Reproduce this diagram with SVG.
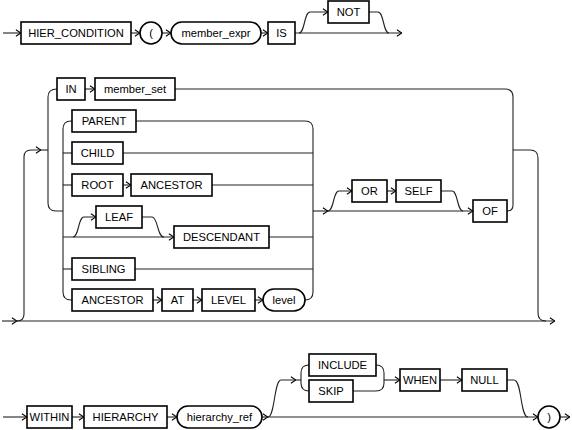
<svg xmlns="http://www.w3.org/2000/svg" width="572" height="430" viewBox="0 0 572 430">
<defs>
<marker id="arr" viewBox="0 0 6 8" refX="5.6" refY="4" markerWidth="6" markerHeight="8" markerUnits="userSpaceOnUse" orient="auto">
<path d="M0.5 0.8 L5.5 4 L0.5 7.2" fill="none" stroke="#000" stroke-width="1.1"/>
</marker>
</defs>
<style>
.b{fill:#fff;stroke:#000;stroke-width:1.6}
.t{font-family:"Liberation Sans",Arial,sans-serif;font-size:11.2px;fill:#000;text-anchor:middle}
.c{fill:none;stroke:#222;stroke-width:1.1}
.a{marker-end:url(#arr)}
</style>
<rect width="572" height="430" fill="#fff"/>
<g id="connectors">
<!-- row 1 -->
<path class="c a" d="M3 33 H21"/>
<path class="c a" d="M131 33 H140"/>
<path class="c a" d="M162 33 H171"/>
<path class="c a" d="M261 33 H268"/>
<path class="c a" d="M295 33 H402"/>
<path class="c a" d="M299 33 C305 33 304 12 310 12 H328"/>
<path class="c" d="M369 12 H378 C384 12 383 33 389 33"/>
<!-- row 2 outer -->
<path class="c a" d="M2 321 H17"/>
<path class="c a" d="M17 321 H555"/>
<path class="c a" d="M17 321 Q24 321 24 314 V157 Q24 150 31 150 H41"/>
<path class="c" d="M41 150 H48"/>
<path class="c" d="M57 89 Q48 89 48 97 V203 Q48 211 56 211 H63"/>
<path class="c a" d="M85 89 H95"/>
<path class="c" d="M175 89 H505 Q513 89 513 97 V150"/>
<path class="c" d="M507 211 Q513 211 513 205 V150"/>
<path class="c" d="M513 150 H530 Q538 150 538 158 V313 Q538 321 546 321"/>
<!-- inner choice -->
<path class="c" d="M72 121 H71 Q63 121 63 129 V292 Q63 300 71 300 H72"/>
<path class="c" d="M63 153 H72"/>
<path class="c" d="M63 185 H72"/>
<path class="c" d="M63 269 H72"/>
<path class="c" d="M136 121 H305 Q313 121 313 129 V292 Q313 300 305 300"/>
<path class="c" d="M123 153 H313"/>
<path class="c a" d="M123 185 H131"/>
<path class="c" d="M212 185 H313"/>
<path class="c a" d="M63 237 H174"/>
<path class="c a" d="M73 237 C79 237 78 217 84 217 H96"/>
<path class="c" d="M142 217 H152 C158 217 157 237 164 237"/>
<path class="c" d="M269 237 H313"/>
<path class="c" d="M135 269 H313"/>
<path class="c a" d="M153 300 H162"/>
<path class="c a" d="M193 300 H202"/>
<path class="c a" d="M255 300 H263"/>
<!-- or self of -->
<path class="c a" d="M313 211 H328"/>
<path class="c a" d="M328 211 H473"/>
<path class="c a" d="M328 211 C334 211 333 191 339 191 H352"/>
<path class="c a" d="M387 191 H396"/>
<path class="c" d="M441 191 H452 C458 191 457 211 463 211"/>
<!-- row 3 -->
<path class="c a" d="M3 417 H27"/>
<path class="c a" d="M72 417 H84"/>
<path class="c a" d="M167 417 H177"/>
<path class="c a" d="M262 417 H268"/>
<path class="c a" d="M268 417 H538"/>
<path class="c a" d="M268 417 C275 417 274 380 281 380 H296"/>
<path class="c" d="M296 380 H301"/>
<path class="c" d="M309 365 Q301 365 301 373 V383 Q301 391 309 391"/>
<path class="c" d="M376 365 Q384 365 384 373 V383 Q384 391 376 391 H353"/>
<path class="c a" d="M384 380 H400"/>
<path class="c a" d="M440 380 H462"/>
<path class="c" d="M507 380 H514 C522 380 520 417 528 417"/>
<path class="c a" d="M560 417 H570"/>
</g>
<g id="n_hier_condition"><rect class="b" x="21" y="22" width="110" height="22"/><text class="t" x="76" y="37">HIER_CONDITION</text></g>
<g id="n_lparen"><circle class="b" cx="151" cy="33" r="11"/><text class="t" x="151" y="37">(</text></g>
<g id="n_member_expr"><rect class="b" x="171" y="22" width="90" height="22" rx="11"/><text class="t" x="216" y="37">member_expr</text></g>
<g id="n_is"><rect class="b" x="268" y="22" width="27" height="22"/><text class="t" x="281.5" y="37">IS</text></g>
<g id="n_not"><rect class="b" x="328" y="1" width="41" height="22"/><text class="t" x="348.5" y="16">NOT</text></g>
<g id="n_in"><rect class="b" x="57" y="78" width="28" height="22"/><text class="t" x="71" y="93">IN</text></g>
<g id="n_member_set"><rect class="b" x="95" y="78" width="80" height="22"/><text class="t" x="135" y="93">member_set</text></g>
<g id="n_parent"><rect class="b" x="72" y="110" width="64" height="22"/><text class="t" x="104" y="125">PARENT</text></g>
<g id="n_child"><rect class="b" x="72" y="142" width="51" height="22"/><text class="t" x="97.5" y="157">CHILD</text></g>
<g id="n_root"><rect class="b" x="72" y="174" width="51" height="22"/><text class="t" x="97.5" y="189">ROOT</text></g>
<g id="n_ancestor1"><rect class="b" x="131" y="174" width="81" height="22"/><text class="t" x="171.5" y="189">ANCESTOR</text></g>
<g id="n_leaf"><rect class="b" x="96" y="206" width="46" height="22"/><text class="t" x="119" y="221">LEAF</text></g>
<g id="n_descendant"><rect class="b" x="174" y="226" width="95" height="22"/><text class="t" x="221.5" y="241">DESCENDANT</text></g>
<g id="n_sibling"><rect class="b" x="72" y="258" width="63" height="22"/><text class="t" x="103.5" y="273">SIBLING</text></g>
<g id="n_ancestor2"><rect class="b" x="72" y="289" width="81" height="22"/><text class="t" x="112.5" y="304">ANCESTOR</text></g>
<g id="n_at"><rect class="b" x="162" y="289" width="31" height="22"/><text class="t" x="177.5" y="304">AT</text></g>
<g id="n_level_kw"><rect class="b" x="202" y="289" width="53" height="22"/><text class="t" x="228.5" y="304">LEVEL</text></g>
<g id="n_level"><rect class="b" x="263" y="289" width="42" height="22" rx="11"/><text class="t" x="284" y="304">level</text></g>
<g id="n_or"><rect class="b" x="352" y="180" width="35" height="22"/><text class="t" x="369.5" y="195">OR</text></g>
<g id="n_self"><rect class="b" x="396" y="180" width="45" height="22"/><text class="t" x="418.5" y="195">SELF</text></g>
<g id="n_of"><rect class="b" x="473" y="200" width="34" height="22"/><text class="t" x="490" y="215">OF</text></g>
<g id="n_within"><rect class="b" x="27" y="406" width="45" height="22"/><text class="t" x="49.5" y="421">WITHIN</text></g>
<g id="n_hierarchy"><rect class="b" x="84" y="406" width="83" height="22"/><text class="t" x="125.5" y="421">HIERARCHY</text></g>
<g id="n_hierarchy_ref"><rect class="b" x="177" y="406" width="85" height="22" rx="11"/><text class="t" x="219.5" y="421">hierarchy_ref</text></g>
<g id="n_include"><rect class="b" x="309" y="354" width="67" height="22"/><text class="t" x="342.5" y="369">INCLUDE</text></g>
<g id="n_skip"><rect class="b" x="309" y="380" width="44" height="22"/><text class="t" x="331" y="395">SKIP</text></g>
<g id="n_when"><rect class="b" x="400" y="369" width="40" height="22"/><text class="t" x="420" y="384">WHEN</text></g>
<g id="n_null"><rect class="b" x="462" y="369" width="45" height="22"/><text class="t" x="484.5" y="384">NULL</text></g>
<g id="n_rparen"><circle class="b" cx="549" cy="417" r="11"/><text class="t" x="549" y="421">)</text></g>
</svg>
